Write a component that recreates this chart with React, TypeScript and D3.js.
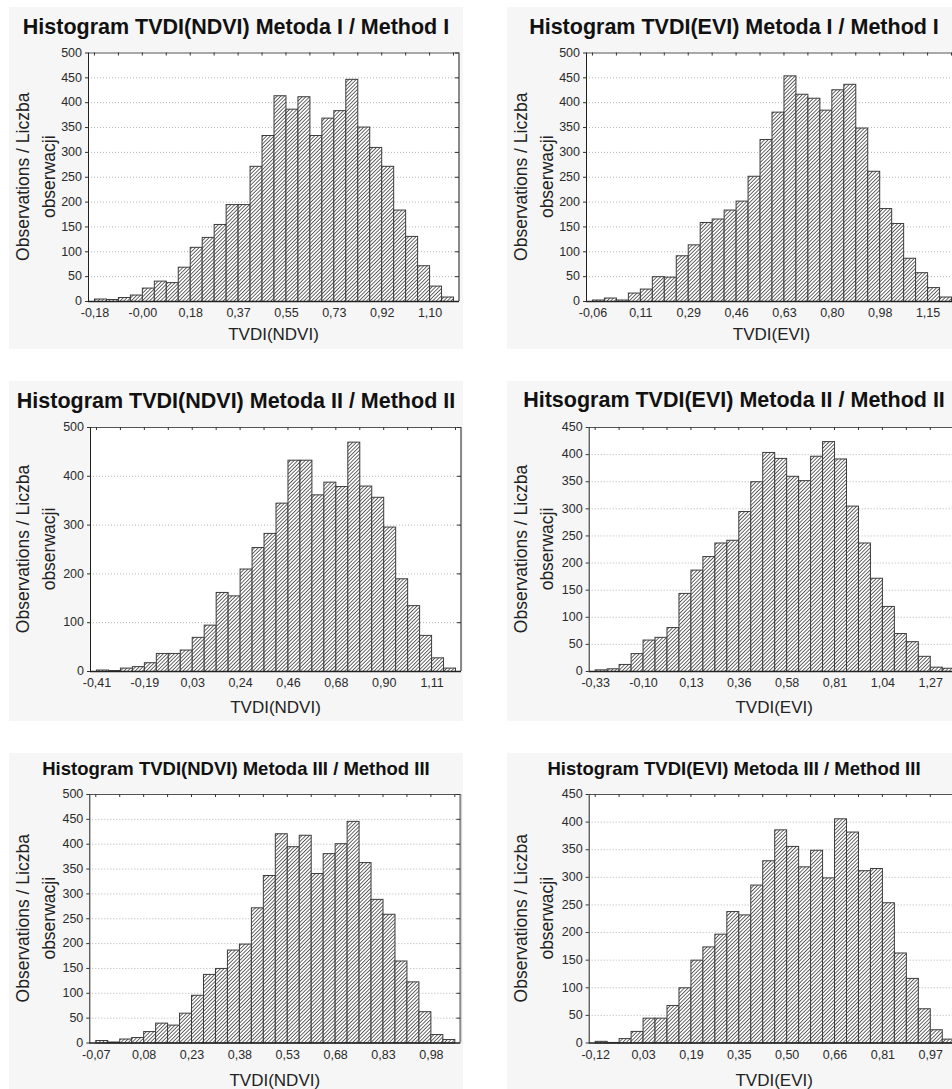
import * as d3 from 'd3';
import React, { useEffect, useRef } from 'react';

// bar counts (30 bins each)
const counts1 = [5, 4, 8, 13, 27, 41, 38, 69, 109, 129, 155, 195, 195, 272, 334, 414, 387, 412, 334, 369, 384, 447, 351, 310, 272, 184, 131, 72, 31, 9];
const counts2 = [3, 7, 3, 17, 25, 50, 49, 92, 114, 159, 166, 184, 202, 252, 326, 381, 454, 417, 409, 385, 426, 437, 349, 262, 187, 157, 87, 58, 28, 9];
const counts3 = [3, 2, 7, 10, 18, 37, 37, 44, 70, 95, 162, 155, 210, 254, 283, 345, 433, 433, 362, 388, 379, 470, 380, 357, 296, 190, 135, 74, 28, 7];
const counts4 = [3, 5, 13, 33, 58, 63, 81, 144, 187, 212, 237, 242, 295, 350, 404, 393, 360, 352, 397, 424, 392, 305, 237, 172, 120, 70, 55, 28, 8, 6];
const counts5 = [5, 2, 8, 11, 23, 40, 36, 60, 96, 138, 150, 187, 199, 272, 337, 421, 395, 418, 341, 381, 401, 446, 363, 289, 259, 165, 123, 63, 17, 7];
const counts6 = [3, 1, 8, 21, 45, 45, 68, 100, 150, 174, 197, 238, 232, 286, 330, 386, 356, 319, 349, 299, 406, 382, 312, 316, 254, 163, 117, 62, 24, 7];

// x tick labels, one every 4 bins
const ticks1 = ['-0,18', '-0,00', '0,18', '0,37', '0,55', '0,73', '0,92', '1,10'];
const ticks2 = ['-0,06', '0,11', '0,29', '0,46', '0,63', '0,80', '0,98', '1,15'];
const ticks3 = ['-0,41', '-0,19', '0,03', '0,24', '0,46', '0,68', '0,90', '1,11'];
const ticks4 = ['-0,33', '-0,10', '0,13', '0,36', '0,58', '0,81', '1,04', '1,27'];
const ticks5 = ['-0,07', '0,08', '0,23', '0,38', '0,53', '0,68', '0,83', '0,98'];
const ticks6 = ['-0,12', '0,03', '0,19', '0,35', '0,50', '0,66', '0,81', '0,97'];

const titles = [
  'Histogram TVDI(NDVI) Metoda I / Method I',
  'Histogram TVDI(EVI) Metoda I / Method I',
  'Histogram TVDI(NDVI) Metoda II / Method II',
  'Hitsogram TVDI(EVI) Metoda II / Method II',
  'Histogram TVDI(NDVI) Metoda III / Method III',
  'Histogram TVDI(EVI) Metoda III / Method III',
];
const xTitles = ['TVDI(NDVI)', 'TVDI(EVI)', 'TVDI(NDVI)', 'TVDI(EVI)', 'TVDI(NDVI)', 'TVDI(EVI)'];
const yMax = [500, 500, 500, 450, 500, 450];
const yStep = [50, 50, 100, 50, 50, 50];
const yTitle = ['Observations / Liczba', 'obserwacji'];

const allCounts = [counts1, counts2, counts3, counts4, counts5, counts6];
const allTicks = [ticks1, ticks2, ticks3, ticks4, ticks5, ticks6];

// panel placement (relative coordinates inside each grey panel)
const layout = [
  { x: 9, y: 7, h: 342, left: 79, top: 45.5, bottom: 294, titleY: 27, titleSize: 21.5, xTitleY: 333 },
  { x: 507, y: 7, h: 342, left: 79, top: 45.5, bottom: 294, titleY: 27, titleSize: 21.5, xTitleY: 333 },
  { x: 9, y: 381, h: 340, left: 81, top: 46, bottom: 290, titleY: 27, titleSize: 21.5, xTitleY: 331.5 },
  { x: 507, y: 381, h: 340, left: 81.7, top: 46, bottom: 290, titleY: 26, titleSize: 21.5, xTitleY: 331.5 },
  { x: 9, y: 753, h: 340, left: 80.3, top: 41, bottom: 289.5, titleY: 22, titleSize: 18.5, xTitleY: 333 },
  { x: 507, y: 753, h: 340, left: 81.7, top: 41, bottom: 289.5, titleY: 22, titleSize: 18.5, xTitleY: 333 },
];

const FONT = '"Liberation Sans", Arial, sans-serif';

export default function App() {
  const ref = useRef<SVGSVGElement>(null);

  useEffect(() => {
    if (!ref.current) return;
    const svg = d3.select(ref.current);
    svg.selectAll('*').remove();

    // fine diagonal hatching like the Statistica bars
    const pat = svg
      .append('defs')
      .append('pattern')
      .attr('id', 'hatch')
      .attr('patternUnits', 'userSpaceOnUse')
      .attr('width', 2.6)
      .attr('height', 10)
      .attr('patternTransform', 'rotate(45)');
    pat.append('rect').attr('width', 2.6).attr('height', 10).attr('fill', '#fdfdfd');
    pat.append('rect').attr('width', 0.85).attr('height', 10).attr('fill', '#505050');

    allCounts.forEach((counts, k) => {
      const L = layout[k];
      const plotW = 371;
      const g = svg.append('g').attr('transform', `translate(${L.x},${L.y})`);

      g.append('rect').attr('width', 454).attr('height', L.h).attr('fill', '#f6f6f6');

      // title
      g.append('text')
        .attr('x', 227)
        .attr('y', L.titleY)
        .attr('text-anchor', 'middle')
        .style('font-family', FONT)
        .style('font-weight', 'bold')
        .style('font-size', `${L.titleSize}px`)
        .attr('fill', '#111')
        .text(titles[k]);

      const x = d3
        .scaleLinear()
        .domain([-0.5, counts.length + 0.5])
        .range([L.left, L.left + plotW]);
      const y = d3.scaleLinear().domain([0, yMax[k]]).range([L.bottom, L.top]);
      const yTicks = d3.range(0, yMax[k] + 1, yStep[k]);

      // plot background
      g.append('rect')
        .attr('x', L.left)
        .attr('y', L.top)
        .attr('width', plotW)
        .attr('height', L.bottom - L.top)
        .attr('fill', '#fff');

      // dotted grid
      g.selectAll('.grid')
        .data(yTicks.filter(t => t > 0 && t < yMax[k]))
        .enter()
        .append('line')
        .attr('x1', L.left)
        .attr('x2', L.left + plotW)
        .attr('y1', d => y(d) + 0.5)
        .attr('y2', d => y(d) + 0.5)
        .attr('stroke', '#b4b4b4')
        .attr('stroke-width', 1)
        .attr('stroke-dasharray', '1,2');

      // bars
      g.selectAll('.bar')
        .data(counts)
        .enter()
        .append('rect')
        .attr('x', (d, i) => x(i) + 0.5)
        .attr('y', d => y(d) + 0.5)
        .attr('width', (d, i) => x(i + 1) - x(i))
        .attr('height', d => y(0) - y(d))
        .attr('fill', 'url(#hatch)')
        .attr('stroke', '#3c3c3c')
        .attr('stroke-width', 1);

      // frame
      g.append('line')
        .attr('x1', L.left).attr('x2', L.left + plotW)
        .attr('y1', L.top + 0.5).attr('y2', L.top + 0.5)
        .attr('stroke', '#555').attr('stroke-width', 1);
      g.append('line')
        .attr('x1', L.left + plotW).attr('x2', L.left + plotW)
        .attr('y1', L.top).attr('y2', L.bottom)
        .attr('stroke', '#8a8a8a').attr('stroke-width', 2);
      g.append('line')
        .attr('x1', L.left + 0.5).attr('x2', L.left + 0.5)
        .attr('y1', L.top).attr('y2', L.bottom + 1)
        .attr('stroke', '#222').attr('stroke-width', 1);
      g.append('line')
        .attr('x1', L.left).attr('x2', L.left + plotW)
        .attr('y1', L.bottom + 0.5).attr('y2', L.bottom + 0.5)
        .attr('stroke', '#222').attr('stroke-width', 1.5);

      // ticks: top inward every 2 bins, left outward and right inward at y ticks
      g.selectAll('.ttick')
        .data(d3.range(0, counts.length + 1, 2))
        .enter()
        .append('line')
        .attr('x1', d => x(d) + 0.5)
        .attr('x2', d => x(d) + 0.5)
        .attr('y1', L.top)
        .attr('y2', L.top + 3)
        .attr('stroke', '#333');
      g.selectAll('.ltick')
        .data(yTicks)
        .enter()
        .append('line')
        .attr('x1', L.left - 3)
        .attr('x2', L.left)
        .attr('y1', d => y(d) + 0.5)
        .attr('y2', d => y(d) + 0.5)
        .attr('stroke', '#333');
      g.selectAll('.rtick')
        .data(yTicks.filter(t => t > 0))
        .enter()
        .append('line')
        .attr('x1', L.left + plotW - 4)
        .attr('x2', L.left + plotW)
        .attr('y1', d => y(d) + 0.5)
        .attr('y2', d => y(d) + 0.5)
        .attr('stroke', '#333');

      // y tick labels
      g.selectAll('.ylab')
        .data(yTicks)
        .enter()
        .append('text')
        .attr('x', L.left - 6)
        .attr('y', d => y(d))
        .attr('dy', '0.34em')
        .attr('text-anchor', 'end')
        .style('font-family', FONT)
        .style('font-size', '12.5px')
        .attr('fill', '#2b2b2b')
        .text(d => d);

      // x tick labels at every 4th bin boundary
      g.selectAll('.xlab')
        .data(allTicks[k])
        .enter()
        .append('text')
        .attr('x', (d, i) => x(i * 4) + 1)
        .attr('y', L.bottom + 16)
        .attr('text-anchor', 'middle')
        .style('font-family', FONT)
        .style('font-size', '12.5px')
        .attr('fill', '#2b2b2b')
        .text(d => d);

      // axis titles
      g.append('text')
        .attr('x', L.left + plotW / 2)
        .attr('y', L.xTitleY)
        .attr('text-anchor', 'middle')
        .style('font-family', FONT)
        .style('font-size', '17px')
        .attr('fill', '#222')
        .text(xTitles[k]);

      const cy = (L.top + L.bottom) / 2;
      yTitle.forEach((line, j) => {
        g.append('text')
          .attr('transform', `translate(${20 + j * 26},${cy}) rotate(-90)`)
          .attr('text-anchor', 'middle')
          .style('font-family', FONT)
          .style('font-size', '17.5px')
          .attr('fill', '#222')
          .text(line);
      });
    });
  }, []);

  return (
    <svg
      ref={ref}
      width={952}
      height={1089}
      style={{ position: 'absolute', left: 0, top: 0, background: '#fff' }}
    />
  );
}
